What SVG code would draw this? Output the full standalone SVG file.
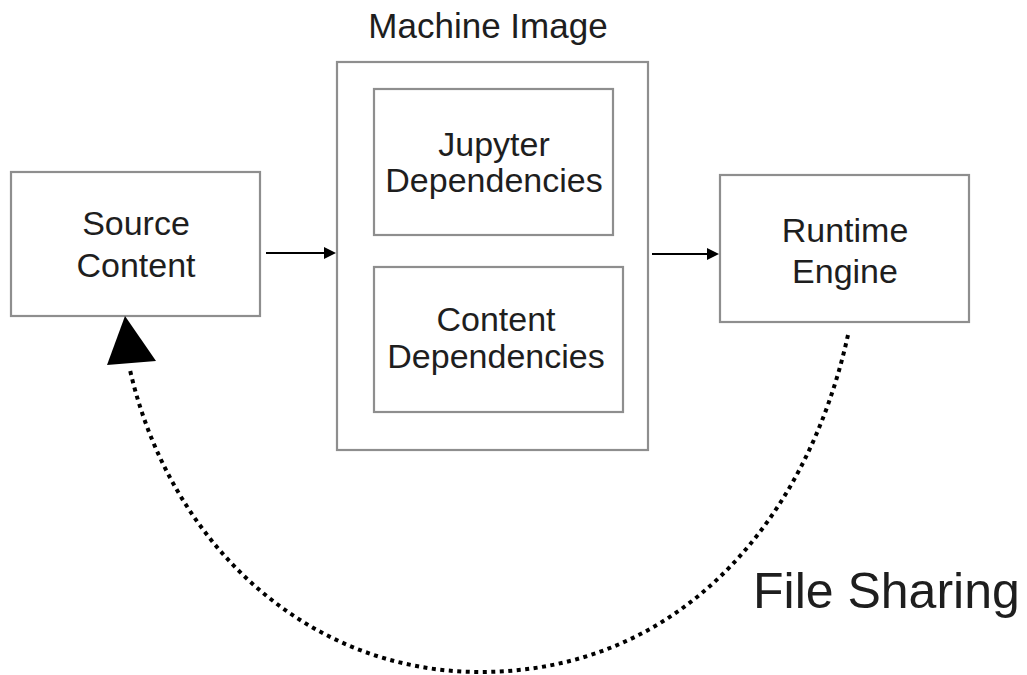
<svg xmlns="http://www.w3.org/2000/svg" width="1027" height="675" viewBox="0 0 1027 675">
  <style>
    .box { fill: #ffffff; stroke: #8e8e8e; stroke-width: 2.2; }
    .lbl { font-family: "Liberation Sans", Arial, Helvetica, sans-serif; font-size: 34px; fill: #1e1e1e; text-anchor: middle; }
    .big { font-family: "Liberation Sans", Arial, Helvetica, sans-serif; font-size: 50px; fill: #1e1e1e; }
    .arrow { stroke: #000000; stroke-width: 2; fill: none; }
    .dotted { stroke: #000000; stroke-width: 4; fill: none; stroke-dasharray: 4 4.5; }
  </style>
  <defs>
    <marker id="head" viewBox="0 0 12 12" refX="2" refY="6" markerWidth="12" markerHeight="12" markerUnits="userSpaceOnUse" orient="auto">
      <path d="M0,0 L12,6 L0,12 Z" fill="#000000"/>
    </marker>
  </defs>
  <rect width="1027" height="675" fill="#ffffff"/>

  <g id="machine-image">
    <text class="lbl" x="488" y="38" style="font-size:35px">Machine Image</text>
    <rect class="box" x="337" y="62" width="311" height="388"/>
  </g>

  <g id="jupyter-dependencies">
    <rect class="box" x="374" y="89" width="239" height="146"/>
    <text class="lbl" x="494" y="156">Jupyter</text>
    <text class="lbl" x="494" y="192">Dependencies</text>
  </g>

  <g id="content-dependencies">
    <rect class="box" x="374" y="267" width="249" height="145"/>
    <text class="lbl" x="496" y="331">Content</text>
    <text class="lbl" x="496" y="368">Dependencies</text>
  </g>

  <g id="source-content">
    <rect class="box" x="11" y="172" width="249" height="144"/>
    <text class="lbl" x="136" y="235">Source</text>
    <text class="lbl" x="136" y="277">Content</text>
  </g>

  <g id="runtime-engine">
    <rect class="box" x="720" y="175" width="249" height="147"/>
    <text class="lbl" x="845" y="242">Runtime</text>
    <text class="lbl" x="845" y="283">Engine</text>
  </g>

  <g id="connectors">
    <line class="arrow" x1="266" y1="253" x2="326" y2="253" marker-end="url(#head)"/>
    <line class="arrow" x1="652" y1="254" x2="709" y2="254" marker-end="url(#head)"/>
    <path class="dotted" d="M848,335 C807,521 680,672 480,672 C305,672 169,541 130,370"/>
    <polygon points="125,316 107,365 156,361" fill="#000000"/>
  </g>

  <g id="file-sharing-label">
    <text class="big" x="753" y="608">File Sharing</text>
  </g>
</svg>
